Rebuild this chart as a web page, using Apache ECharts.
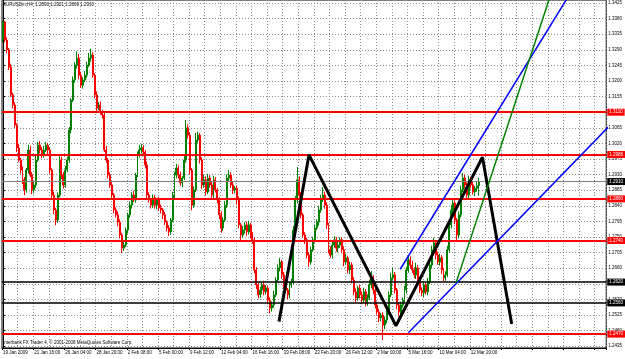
<!DOCTYPE html>
<html>
<head>
<meta charset="utf-8">
<script src="https://cdn.jsdelivr.net/npm/echarts@6/dist/echarts.min.js"></script>
<style>
  html, body { margin: 0; padding: 0; background: #fff; }
  #chart { width: 625px; height: 359px; }
</style>
</head>
<body>
<div id="chart"></div>
<script>
  // EURUSDm H4, closes in pips (x 0.0001), open = previous close
  const firstOpen = 13320;
  const closes = [
    13370, 13318, 13290, 13240, 13160, 13131, 13073, 13007, 12972, 12943,
    12915, 12886, 12943, 13001, 12929, 12886, 12900, 12972, 13015, 13001,
    12987, 13001, 13015, 13001, 12943, 12871, 12828, 12799, 12871, 12972,
    12929, 12900, 12943, 12972, 13059, 13145, 13203, 13246, 13266, 13217,
    13188, 13203, 13217, 13246, 13266, 13275, 13217, 13160, 13122, 13131,
    13111, 13102, 13001, 12972, 12929, 12900, 12871, 12828, 12814, 12793,
    12756, 12718, 12727, 12770, 12814, 12842, 12871, 12857, 12929, 12987,
    13001, 13007, 12995, 12958, 12871, 12857, 12842, 12863, 12842, 12857,
    12834, 12828, 12814, 12793, 12776, 12765, 12799, 12871, 12929, 12949,
    12929, 12906, 12920, 12972, 13065, 13044, 12943, 12842, 12886, 13030,
    13044, 12972, 12900, 12915, 12880, 12920, 12900, 12871, 12915, 12886,
    12857, 12814, 12776, 12799, 12842, 12920, 12929, 12900, 12886, 12891,
    12857, 12785, 12756, 12770, 12785, 12765, 12785, 12756, 12742, 12655,
    12612, 12583, 12597, 12612, 12592, 12603, 12568, 12545, 12554, 12583,
    12626, 12661, 12678, 12641, 12612, 12597, 12583, 12612, 12620, 12770,
    12857, 12915, 12871, 12814, 12756, 12742, 12698, 12678, 12713, 12742,
    12776, 12793, 12828, 12857, 12871, 12842, 12785, 12713, 12698, 12727,
    12742, 12718, 12727, 12742, 12713, 12678, 12690, 12655, 12669, 12626,
    12592, 12574, 12603, 12583, 12568, 12592, 12560, 12574, 12612, 12632,
    12597, 12554, 12534, 12517, 12525, 12496, 12511, 12534, 12583, 12632,
    12641, 12597, 12554, 12534, 12554, 12568, 12597, 12655, 12684, 12669,
    12655, 12641, 12661, 12626, 12597, 12589, 12612, 12592, 12620, 12669,
    12713, 12733, 12698, 12678, 12690, 12655, 12632, 12641, 12713, 12785,
    12828, 12848, 12799, 12756, 12814, 12886, 12920, 12900, 12871, 12915,
    12900, 12880, 12891, 12898, 12910
  ];
  // wick length above / below the body, pips
  const wickUp = [
    6, 4, 8, 5, 10, 6, 8, 5, 12, 6,
    10, 8, 6, 15, 12, 8, 10, 14, 10, 12,
    8, 12, 10, 6, 8, 5, 10, 6, 8, 14,
    10, 8, 12, 10, 8, 6, 10, 8, 20, 12,
    10, 8, 12, 10, 15, 18, 8, 6, 10, 8,
    10, 6, 8, 12, 6, 8, 10, 6, 8, 10,
    8, 6, 10, 8, 6, 10, 8, 12, 6, 10,
    15, 12, 8, 6, 10, 8, 6, 10, 8, 6,
    8, 10, 6, 8, 5, 8, 6, 10, 8, 12,
    8, 10, 6, 12, 23, 10, 8, 6, 10, 20,
    10, 6, 8, 14, 10, 12, 8, 10, 12, 8,
    6, 8, 10, 8, 12, 10, 14, 8, 10, 6,
    8, 10, 6, 12, 8, 10, 12, 6, 8, 6,
    8, 6, 10, 8, 12, 8, 6, 8, 10, 12,
    8, 10, 12, 6, 8, 10, 6, 8, 10, 12,
    12, 37, 10, 8, 6, 8, 6, 8, 10, 8,
    10, 8, 12, 15, 23, 10, 8, 6, 10, 12,
    10, 8, 12, 8, 6, 10, 12, 6, 10, 8,
    8, 10, 6, 8, 10, 12, 8, 10, 15, 20,
    8, 6, 10, 8, 6, 8, 10, 12, 10, 15,
    20, 8, 6, 8, 10, 8, 12, 10, 14, 10,
    12, 8, 15, 8, 6, 8, 10, 8, 12, 10,
    12, 15, 8, 10, 12, 8, 6, 10, 12, 10,
    15, 12, 8, 6, 10, 12, 15, 10, 8, 12,
    8, 10, 6, 12, 11
  ];
  const wickDn = [
    8, 6, 10, 8, 6, 10, 8, 12, 6, 10,
    12, 15, 8, 10, 6, 12, 10, 8, 6, 10,
    10, 8, 6, 12, 10, 8, 12, 15, 8, 6,
    12, 10, 8, 6, 8, 10, 6, 8, 10, 12,
    8, 10, 6, 8, 6, 10, 8, 10, 8, 6,
    8, 10, 6, 8, 10, 8, 12, 10, 8, 12,
    10, 14, 8, 6, 10, 8, 10, 6, 8, 6,
    8, 10, 6, 10, 12, 8, 10, 8, 10, 12,
    8, 10, 12, 8, 10, 12, 8, 6, 8, 10,
    10, 8, 12, 6, 8, 10, 12, 15, 8, 6,
    8, 10, 12, 8, 10, 6, 8, 12, 10, 8,
    10, 12, 14, 8, 6, 8, 10, 8, 12, 10,
    12, 10, 15, 8, 10, 12, 8, 10, 12, 10,
    12, 10, 8, 12, 10, 8, 12, 15, 10, 8,
    6, 8, 10, 12, 10, 8, 12, 10, 8, 6,
    8, 10, 12, 10, 8, 12, 10, 14, 8, 6,
    8, 6, 10, 8, 6, 10, 12, 10, 8, 10,
    8, 10, 12, 8, 10, 12, 8, 10, 12, 10,
    10, 12, 8, 10, 12, 8, 10, 8, 6, 10,
    12, 10, 8, 12, 10, 43, 12, 10, 8, 6,
    8, 10, 12, 14, 10, 8, 6, 10, 8, 10,
    8, 10, 12, 10, 8, 10, 12, 8, 10, 6,
    8, 10, 12, 8, 10, 12, 10, 8, 6, 8,
    10, 8, 12, 14, 10, 8, 6, 10, 12, 8,
    10, 8, 12, 10, 29
  ];

  const dateLabels = ['19 Jan 2009', '21 Jan 16:00', '26 Jan 04:00', '28 Jan 20:00', '2 Feb 08:00',
    '5 Feb 00:00', '9 Feb 12:00', '12 Feb 04:00', '16 Feb 16:00', '19 Feb 08:00', '23 Feb 20:00',
    '26 Feb 12:00', '2 Mar 00:00', '5 Mar 16:00', '10 Mar 04:00', '12 Mar 20:00'];
  const priceTicks = [1.3425, 1.3380, 1.3335, 1.3290, 1.3245, 1.3200, 1.3155, 1.3110, 1.3065,
    1.3020, 1.2975, 1.2930, 1.2885, 1.2840, 1.2795, 1.2750, 1.2705, 1.2660, 1.2615, 1.2570,
    1.2525, 1.2480, 1.2435];

  const redLevels = [1.3110, 1.2988, 1.2860, 1.2740, 1.2470];
  const blackLevels = [1.2620, 1.2560];
  const bidLevel = 1.2910;

  // drawn objects: [bar index, price]
  const zigzag = [[141.6, 1.2506], [157.0, 1.2987], [201.6, 1.2494], [246.0, 1.2980], [261.0, 1.2499]];
  const blueUpper = [[203.8, 1.2657], [295.2, 1.3491]];
  const blueLower = [[208.0, 1.2474], [316.1, 1.3099]];
  const greenLine = [[232.4, 1.2617], [281.8, 1.3463]];

  const slotCount = 310;
  const labelStep = 16;
  const smallFont = 'Liberation Sans';

  const categories = [];
  for (let i = 0; i < slotCount; i++) categories.push(String(i));

  const ohlc = closes.map((c, i) => {
    const o = i === 0 ? firstOpen : closes[i - 1];
    const hi = Math.max(o, c) + wickUp[i];
    const lo = Math.min(o, c) - wickDn[i];
    return [o / 10000, c / 10000, lo / 10000, hi / 10000];
  });

  const levelLine = (v, lineColor, width, bg) => ({
    yAxis: v,
    lineStyle: { color: lineColor, width: width, type: 'solid' },
    label: {
      show: true, position: 'end', distance: 1, formatter: v.toFixed(4),
      backgroundColor: bg, color: '#fff', fontSize: 4.5, fontFamily: smallFont,
      padding: [1, 2, 1, 2]
    }
  });

  const markData = []
    .concat(redLevels.map(v => levelLine(v, '#ff0000', 2, '#ff0000')))
    .concat(blackLevels.map(v => levelLine(v, '#000000', 1.5, '#000000')))
    .concat([levelLine(bidLevel, '#808080', 1, '#000000')]);

  const objLine = (data, color, width) => ({
    type: 'line', xAxisIndex: 1, yAxisIndex: 0, data: data,
    symbol: 'none', clip: true, z: 5, silent: true,
    lineStyle: { color: color, width: width }
  });

  const levelSeries = objLine(zigzag, '#000000', 3);
  levelSeries.markLine = { silent: true, precision: 4, symbol: ['none', 'none'], data: markData, z: 4 };

  const chart = echarts.init(document.getElementById('chart'));
  chart.setOption({
    animation: false,
    backgroundColor: '#ffffff',
    grid: { left: 1, right: 18, top: 0, bottom: 11, show: true, borderColor: '#000', borderWidth: 1, backgroundColor: 'transparent' },
    xAxis: [{
      type: 'category', data: categories, boundaryGap: true,
      axisLine: { show: true, lineStyle: { color: '#000' } },
      axisTick: { show: true, length: 2, interval: i => i % labelStep === 0, lineStyle: { color: '#000' } },
      axisLabel: {
        interval: i => i % labelStep === 0 && i / labelStep < dateLabels.length,
        formatter: (v, i) => dateLabels[i / labelStep] || '',
        align: 'left', fontSize: 4.5, color: '#000', margin: 2, fontFamily: smallFont
      },
      splitLine: { show: true, interval: i => i % 8 === 0, lineStyle: { color: '#8c8c8c', type: [1, 2], width: 1 } }
    }, {
      type: 'value', min: -0.5, max: slotCount - 0.5, show: false
    }],
    yAxis: [{
      type: 'value', position: 'right', scale: true, min: 1.24299, max: 1.34337,
      axisLine: { show: true, lineStyle: { color: '#000' } },
      axisTick: { show: true, length: 2, customValues: priceTicks, lineStyle: { color: '#000' } },
      axisLabel: { customValues: priceTicks, formatter: v => v.toFixed(4), fontSize: 4.5, color: '#000', margin: 2, fontFamily: smallFont },
      splitLine: { show: true, lineStyle: { color: '#8c8c8c', type: [1, 2], width: 1 } }
    }],
    series: [{
      type: 'candlestick', data: ohlc, barWidth: '75%', z: 2,
      itemStyle: { color: '#008000', color0: '#ff0000', borderColor: '#008000', borderColor0: '#ff0000', borderWidth: 1 }
    },
    levelSeries,
    objLine(blueUpper, '#0000ff', 1.5),
    objLine(blueLower, '#0000ff', 1.5),
    objLine(greenLine, '#008000', 1.5)],
    graphic: [
      { type: 'text', left: 3, top: 2, style: { text: 'EURUSDm,H4  1.2898 1.2921 1.2869 1.2910', font: '4.5px "Liberation Sans"', fill: '#000' } },
      { type: 'text', left: 3, top: 340, style: { text: 'Interbank FX Trader 4, © 2001-2008 MetaQuotes Software Corp.', font: '4.5px "Liberation Sans"', fill: '#000' } }
    ]
  });
</script>
</body>
</html>
